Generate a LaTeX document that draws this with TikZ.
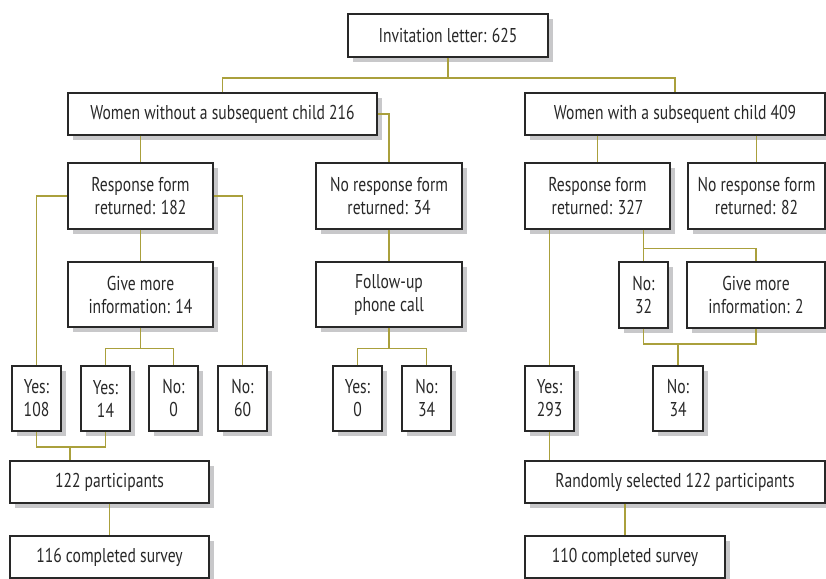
\documentclass[tikz,border=0pt]{standalone}
\usepackage{fontspec}
\setmainfont{PT Sans}[FakeStretch=0.78]
\usetikzlibrary{shadows}
\definecolor{lineolive}{RGB}{170,160,60}
\definecolor{shadowgray}{RGB}{200,200,202}
\definecolor{textgray}{RGB}{40,40,40}
\tikzset{
  box/.style={draw=textgray, line width=1.3pt, fill=white, align=center, inner sep=2pt,
    text=textgray, font=\fontsize{20}{23}\selectfont,
    drop shadow={shadow xshift=5pt, shadow yshift=-5pt, fill=shadowgray, opacity=1}},
  link/.style={draw=lineolive, line width=1.2pt}
}
\begin{document}
\begin{tikzpicture}[x=1pt, y=-1pt]
  \useasboundingbox (0,0) rectangle (826,578);
  % top levels
  \node[box, minimum width=200pt, minimum height=43pt] (invite) at (448,35.5) {Invitation letter: 625};
  \node[box, minimum width=309pt, minimum height=42pt] (wwo) at (222.5,114) {Women without a subsequent child 216};
  \node[box, minimum width=300pt, minimum height=42pt] (ww) at (675,114) {Women with a subsequent child 409};
  % response forms
  \node[box, minimum width=145pt, minimum height=66pt] (rf1) at (140.5,196) {Response form\\returned: 182};
  \node[box, minimum width=146pt, minimum height=66pt] (nrf1) at (389,196) {No response form\\returned: 34};
  \node[box, minimum width=145pt, minimum height=66pt] (rf2) at (597.5,196) {Response form\\returned: 327};
  \node[box, minimum width=137pt, minimum height=66pt] (nrf2) at (756.5,196) {No response form\\returned: 82};
  % third row
  \node[box, minimum width=145pt, minimum height=65pt] (gmi1) at (140.5,294.5) {Give more\\information: 14};
  \node[box, minimum width=146pt, minimum height=65pt] (fup) at (389,294.5) {Follow-up\\phone call};
  \node[box, minimum width=49pt, minimum height=66pt] (no32) at (643.5,295) {No:\\32};
  \node[box, minimum width=138pt, minimum height=66pt] (gmi2) at (756,295) {Give more\\information: 2};
  % yes / no boxes
  \node[box, minimum width=49pt, minimum height=65pt] (y108) at (36.5,398.5) {Yes:\\108};
  \node[box, minimum width=49pt, minimum height=65pt] (y14) at (105.5,398.5) {Yes:\\14};
  \node[box, minimum width=49pt, minimum height=65pt] (n0) at (173.5,398.5) {No:\\0};
  \node[box, minimum width=49pt, minimum height=65pt] (n60) at (242.5,398.5) {No:\\60};
  \node[box, minimum width=49pt, minimum height=65pt] (y0) at (357.5,398.5) {Yes:\\0};
  \node[box, minimum width=49pt, minimum height=65pt] (n34a) at (426.5,398.5) {No:\\34};
  \node[box, minimum width=49pt, minimum height=65pt] (y293) at (549.5,398.5) {Yes:\\293};
  \node[box, minimum width=50pt, minimum height=65pt] (n34b) at (678,398.5) {No:\\34};
  % results
  \node[box, minimum width=199pt, minimum height=42pt] (part1) at (109.5,482) {122 participants};
  \node[box, minimum width=300pt, minimum height=42pt] (rsel) at (675,482) {Randomly selected 122 participants};
  \node[box, minimum width=199pt, minimum height=42pt] (comp1) at (109.5,557) {116 completed survey};
  \node[box, minimum width=200pt, minimum height=42pt] (comp2) at (625,557) {110 completed survey};
  % connectors
  \coordinate (s1) at (448,78);
  \draw[link] (invite.south) -- (s1);
  \draw[link] (wwo.north) |- (s1) -| (ww.north);
  \draw[link] (wwo.south -| rf1.north) -- (rf1.north);
  \draw[link] (wwo.east) -| (nrf1.north);
  \draw[link] (ww.south -| rf2.north) -- (rf2.north);
  \draw[link] (ww.south -| nrf2.north) -- (nrf2.north);
  \draw[link] (rf1.west) -| (y108.north);
  \draw[link] (rf1.east) -| (n60.north);
  \draw[link] (rf1.south) -- (gmi1.north);
  \draw[link] (gmi1.south) -- ++(0,21) coordinate (s2);
  \draw[link] (y14.north) |- (s2) -| (n0.north);
  \draw[link] (nrf1.south) -- (fup.north);
  \draw[link] (fup.south) -- ++(0,21) coordinate (s3);
  \draw[link] (y0.north) |- (s3) -| (n34a.north);
  \draw[link] (y293.north |- rf2.south) -- (y293.north);
  \draw[link] (no32.north |- rf2.south) -- (no32.north);
  \draw[link] (no32.north) ++(0,-13) -| (gmi2.north);
  \coordinate (j2) at (678,344);
  \draw[link] (no32.south) |- (j2) -| (gmi2.south);
  \draw[link] (j2) -- (n34b.north);
  \coordinate (j1) at (70,447);
  \draw[link] (y108.south) |- (j1) -| (y14.south);
  \draw[link] (j1) -- (j1 |- part1.north);
  \draw[link] (part1.south) -- (comp1.north);
  \draw[link] (y293.south) -- (y293.south |- rsel.north);
  \draw[link] (comp2.north |- rsel.south) -- (comp2.north);
\end{tikzpicture}
\end{document}
